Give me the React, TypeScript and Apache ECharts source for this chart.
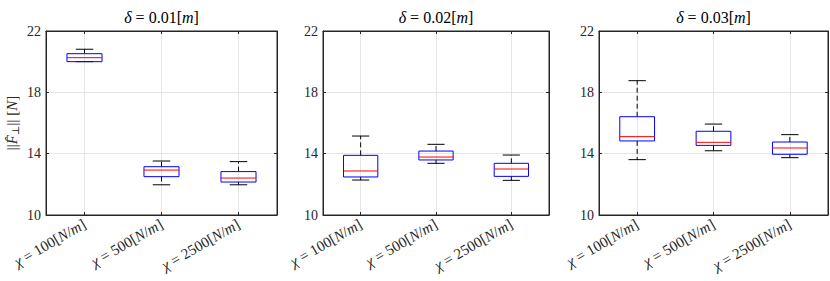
import React, { useEffect, useRef } from "react";
import * as echarts from "echarts";

const deltas = ["0.01", "0.02", "0.03"];
const stiffness = ["100", "500", "2500"];
const yTicks = { min: 10, max: 22, interval: 4 };

// one row per panel (delta), one value per stiffness category
const whiskerLow = [
  [20.0, 11.97, 11.97],
  [12.28, 13.37, 12.26],
  [13.61, 14.19, 13.74],
];
const quartile1 = [
  [20.0, 12.5, 12.15],
  [12.48, 13.59, 12.52],
  [14.83, 14.54, 13.96],
];
const medians = [
  [20.26, 12.93, 12.41],
  [12.87, 13.78, 13.0],
  [15.11, 14.74, 14.37],
];
const quartile3 = [
  [20.52, 13.15, 12.83],
  [13.89, 14.17, 13.37],
  [16.41, 15.46, 14.76],
];
const whiskerHigh = [
  [20.81, 13.52, 13.48],
  [15.15, 14.61, 13.91],
  [18.76, 15.93, 15.24],
];

const FONT = "'Liberation Serif', 'DejaVu Serif', serif";
const AX = "#262626";
const GRID = "#e6e6e6";

const gridsPos = [
  { left: 46, width: 231 },
  { left: 323, width: 226 },
  { left: 599, width: 229 },
];

export default function App() {
  const ref = useRef<HTMLDivElement>(null);
  useEffect(() => {
    const chart = echarts.init(ref.current!, null, { renderer: "svg" });
    const grids = gridsPos.map((g) => ({
      left: g.left,
      width: g.width,
      top: 31,
      height: 184,
      show: true,
      borderColor: AX,
      borderWidth: 1,
    }));
    const xAxes: any[] = [];
    const yAxes: any[] = [];
    for (let p = 0; p < 3; p++) {
      xAxes.push({
        type: "category",
        gridIndex: p,
        data: stiffness,
        position: "bottom",
        axisLine: { show: true, lineStyle: { color: AX } },
        axisTick: { show: true, inside: true, length: 3, alignWithLabel: true, lineStyle: { color: AX } },
        splitLine: { show: true, alignWithLabel: true, lineStyle: { color: GRID } },
        axisLabel: {
          interval: 0,
          rotate: 30,
          margin: 8,
          fontFamily: FONT,
          fontSize: 15,
          color: AX,
          formatter: (v: string) => `{i|χ} = ${v}[{i|N}/{i|m}]`,
          rich: { i: { fontStyle: "italic", fontFamily: FONT, fontSize: 15 } },
        },
      });
      yAxes.push({
        type: "value",
        gridIndex: p,
        min: yTicks.min,
        max: yTicks.max,
        interval: yTicks.interval,
        position: "left",
        axisLine: { show: true, lineStyle: { color: AX } },
        axisTick: { show: true, inside: true, length: 3, lineStyle: { color: AX } },
        splitLine: { show: true, lineStyle: { color: GRID } },
        axisLabel: { fontFamily: FONT, fontSize: 14, color: AX, margin: 5 },
      });
    }
    for (let p = 0; p < 3; p++) {
      xAxes.push({
        type: "category",
        gridIndex: p,
        data: stiffness,
        position: "top",
        axisLine: { show: true, lineStyle: { color: AX } },
        axisTick: { show: true, inside: true, length: 3, alignWithLabel: true, lineStyle: { color: AX } },
        splitLine: { show: false },
        axisLabel: { show: false },
      });
      yAxes.push({
        type: "value",
        gridIndex: p,
        min: yTicks.min,
        max: yTicks.max,
        interval: yTicks.interval,
        position: "right",
        axisLine: { show: true, lineStyle: { color: AX } },
        axisTick: { show: true, inside: true, length: 3, lineStyle: { color: AX } },
        splitLine: { show: false },
        axisLabel: { show: false },
      });
    }

    const series = deltas.map((_, p) => ({
      type: "custom",
      xAxisIndex: p,
      yAxisIndex: p,
      silent: true,
      encode: { x: 0, y: [1, 2, 3, 4, 5] },
      data: stiffness.map((_, c) => [
        c,
        whiskerLow[p][c],
        quartile1[p][c],
        medians[p][c],
        quartile3[p][c],
        whiskerHigh[p][c],
      ]),
      renderItem: (params: any, api: any) => {
        const x = api.value(0);
        const lo = api.coord([x, api.value(1)]);
        const q1 = api.coord([x, api.value(2)]);
        const md = api.coord([x, api.value(3)]);
        const q3 = api.coord([x, api.value(4)]);
        const hi = api.coord([x, api.value(5)]);
        const band = api.size([1, 0])[0];
        const bw = band * 0.455;
        const cw = bw / 2;
        const cx = lo[0];
        const dash = { stroke: "#000", fill: "none", lineWidth: 1, lineDash: [5, 3] };
        const solid = { stroke: "#000", fill: "none", lineWidth: 1 };
        const children: any[] = [];
        if (hi[1] < q3[1] - 0.5)
          children.push({ type: "line", shape: { x1: cx, y1: q3[1], x2: cx, y2: hi[1] }, style: dash });
        if (lo[1] > q1[1] + 0.5)
          children.push({ type: "line", shape: { x1: cx, y1: q1[1], x2: cx, y2: lo[1] }, style: dash });
        children.push({ type: "line", shape: { x1: cx - cw / 2, y1: hi[1], x2: cx + cw / 2, y2: hi[1] }, style: solid });
        children.push({ type: "line", shape: { x1: cx - cw / 2, y1: lo[1], x2: cx + cw / 2, y2: lo[1] }, style: solid });
        children.push({
          type: "rect",
          shape: { x: cx - bw / 2, y: q3[1], width: bw, height: q1[1] - q3[1] },
          style: { fill: "none", stroke: "#0000ff", lineWidth: 1 },
        });
        children.push({
          type: "line",
          shape: { x1: cx - bw / 2, y1: md[1], x2: cx + bw / 2, y2: md[1] },
          style: { stroke: "#ff0000", fill: "none", lineWidth: 1 },
        });
        return { type: "group", children };
      },
    }));

    const titles = deltas.map((d, p) => ({
      text: `{i|δ} = ${d}[{i|m}]`,
      left: gridsPos[p].left + gridsPos[p].width / 2,
      top: 9,
      textAlign: "center",
      padding: 0,
      textStyle: {
        fontFamily: FONT,
        fontWeight: "normal",
        fontSize: 16,
        color: "#000",
        rich: { i: { fontStyle: "italic", fontFamily: FONT, fontSize: 16 } },
      },
    }));

    chart.setOption({
      animation: false,
      textStyle: { fontFamily: FONT },
      title: titles,
      grid: grids,
      xAxis: xAxes,
      yAxis: yAxes,
      series,
      graphic: [
        {
          type: "text",
          x: 12,
          y: 123,
          rotation: Math.PI / 2,
          style: {
            text: "||{i|F̂}{s|⊥}|| [{i|N}]",
            align: "center",
            verticalAlign: "middle",
            fontFamily: FONT,
            fontSize: 15,
            fill: AX,
            rich: {
              i: { fontStyle: "italic", fontFamily: FONT, fontSize: 15 },
              s: { fontFamily: FONT, fontSize: 10, padding: [6, 0, 0, 0] },
            },
          },
        },
      ],
    });
    return () => chart.dispose();
  }, []);
  return (
    <div
      ref={ref}
      style={{ position: "absolute", left: 0, top: 0, width: 830, height: 281 }}
    />
  );
}
